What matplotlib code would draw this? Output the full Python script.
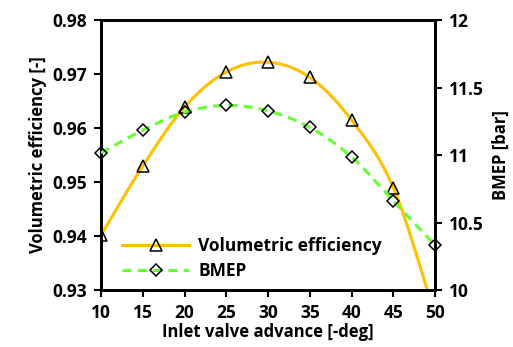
import numpy as np
import matplotlib.pyplot as plt
from matplotlib.lines import Line2D

advance = [10, 15, 20, 25, 30, 35, 40, 45, 50]
vol_eff = [0.9402, 0.9530, 0.9639, 0.9704, 0.9722, 0.9694, 0.9615, 0.9490, 0.9255]
bmep = [11.017, 11.185, 11.319, 11.368, 11.328, 11.205, 10.987, 10.661, 10.333]

yellow = '#FFC000'
green = '#66FF33'


def smooth(x, y, n=30):
    # catmull-rom through the points, like excel's smoothed line
    x = np.asarray(x, float)
    y = np.asarray(y, float)
    px = np.concatenate([[2 * x[0] - x[1]], x, [2 * x[-1] - x[-2]]])
    py = np.concatenate([[2 * y[0] - y[1]], y, [2 * y[-1] - y[-2]]])
    xs, ys = [], []
    t = np.linspace(0, 1, n)
    for i in range(1, len(px) - 2):
        for p, out in ((px, xs), (py, ys)):
            p0, p1, p2, p3 = p[i - 1], p[i], p[i + 1], p[i + 2]
            out.extend(0.5 * ((2 * p1) + (-p0 + p2) * t
                              + (2 * p0 - 5 * p1 + 4 * p2 - p3) * t ** 2
                              + (-p0 + 3 * p1 - 3 * p2 + p3) * t ** 3))
    return np.array(xs), np.array(ys)


plt.rcParams['font.family'] = ['Open Sans', 'DejaVu Sans']
plt.rcParams['font.weight'] = 'bold'
fs = 12

fig = plt.figure(figsize=(5.13, 3.47), dpi=100)
ax = fig.add_axes([0.197, 0.164, 0.651, 0.778])
ax2 = ax.twinx()

sx, sy = smooth(advance, vol_eff)
ax.plot(sx, sy, color=yellow, lw=2.2, zorder=3)
ax.plot(advance, vol_eff, ls='none', marker='^', ms=9, mfc='none', mec='black', mew=1.1, zorder=4)

bx, by = smooth(advance, bmep)
ax2.plot(bx, by, color=green, lw=2.2, ls=(0, (3, 2)), zorder=3)
ax2.plot(advance, bmep, ls='none', marker='D', ms=6.5, mfc='none', mec='black', mew=1.1,
         zorder=4, clip_on=False)

ax.set_xlim(10, 50)
ax.set_ylim(0.93, 0.98)
ax2.set_ylim(10, 12)
ax.set_xticks(advance)
ax.set_yticks([0.93, 0.94, 0.95, 0.96, 0.97, 0.98])
ax2.set_yticks([10, 10.5, 11, 11.5, 12])
ax2.set_yticklabels(['10', '10.5', '11', '11.5', '12'])

for a in (ax, ax2):
    for s in a.spines.values():
        s.set_linewidth(2)
    a.tick_params(direction='out', length=5, width=1.5, labelsize=12.5, pad=5)
    for lab in a.get_xticklabels() + a.get_yticklabels():
        lab.set_fontweight('bold')

ax.set_xlabel('Inlet valve advance [-deg]', fontsize=fs, fontweight='bold', labelpad=1)
ax.set_ylabel('Volumetric efficiency [-]', fontsize=fs, fontweight='bold', labelpad=4)
ax2.set_ylabel('BMEP [bar]', fontsize=fs, fontweight='bold', labelpad=6)

handles = [
    Line2D([], [], color=yellow, lw=2.2, marker='^', ms=9, mfc='none', mec='black', mew=1.1),
    Line2D([], [], color=green, lw=2.2, ls=(0, (3, 2)), marker='D', ms=6.5, mfc='none',
           mec='black', mew=1.1),
]
ax2.legend(handles, ['Volumetric efficiency', 'BMEP'], loc='lower left',
           bbox_to_anchor=(0.015, -0.022), frameon=False, handlelength=3.9, handletextpad=0.5,
           prop={'weight': 'bold', 'size': 12.5}, labelspacing=0.45)

fig.savefig('out.png', dpi=100)
